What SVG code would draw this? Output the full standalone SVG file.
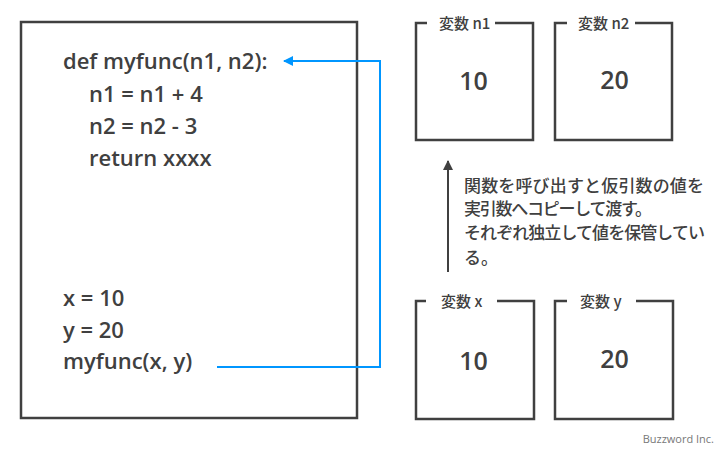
<svg xmlns="http://www.w3.org/2000/svg" width="728" height="450" viewBox="0 0 728 450">
<defs>
<style>
.box{fill:none;stroke:#404040;stroke-width:2.5}
.code{font-family:"Open Sans","Noto Sans",sans-serif;font-size:22px;font-weight:600;fill:#404040}
.lbl{font-family:"Noto Sans CJK JP","Noto Sans",sans-serif;font-size:15px;font-weight:500;fill:#404040}
.val{font-family:"Open Sans","Noto Sans",sans-serif;font-size:25px;font-weight:600;fill:#404040;text-anchor:middle}
.note{font-family:"Noto Sans CJK JP",sans-serif;font-size:17px;font-weight:500;fill:#404040}
.wm{font-family:"Open Sans","Noto Sans",sans-serif;font-size:11px;fill:#777}
</style>
<marker id="ab" viewBox="0 0 10 10" refX="9" refY="5" markerWidth="10" markerHeight="10" markerUnits="userSpaceOnUse" orient="auto"><path d="M0,0 L10,5 L0,10 z" fill="#0096ff"/></marker>
<marker id="ag" viewBox="0 0 10 10" refX="9" refY="5" markerWidth="10" markerHeight="10" markerUnits="userSpaceOnUse" orient="auto"><path d="M0,0 L10,5 L0,10 z" fill="#404040"/></marker>
</defs>
<rect width="728" height="450" fill="#fff"/>
<g id="code">
<rect class="box" x="21" y="22" width="336" height="396"/>
<text class="code" x="63" y="69">def myfunc(n1, n2):</text>
<text class="code" x="89" y="102">n1 = n1 + 4</text>
<text class="code" x="89" y="134">n2 = n2 - 3</text>
<text class="code" x="89" y="166">return xxxx</text>
<text class="code" x="63" y="306">x = 10</text>
<text class="code" x="63" y="338">y = 20</text>
<text class="code" x="63" y="369">myfunc(x, y)</text>
</g>
<g id="var-n1">
<path class="box" d="M427,23 H416 V140 H533 V23 H495"/>
<text class="lbl" x="439" y="29">変数 n1</text>
<text class="val" x="473.5" y="90">10</text>
</g>
<g id="var-n2">
<path class="box" d="M567,23 H555 V140 H672 V23 H635"/>
<text class="lbl" x="578" y="29">変数 n2</text>
<text class="val" x="614.5" y="89">20</text>
</g>
<g id="var-x">
<path class="box" d="M426,301 H416 V419 H534 V301 H497"/>
<text class="lbl" x="441" y="307">変数 x</text>
<text class="val" x="473.5" y="370">10</text>
</g>
<g id="var-y">
<path class="box" d="M567,301 H555 V419 H673 V301 H636"/>
<text class="lbl" x="580" y="307">変数 y</text>
<text class="val" x="614.5" y="368">20</text>
</g>
<g id="note">
<text class="note" x="464" y="192" textLength="240" lengthAdjust="spacing">関数を呼び出すと仮引数の値を</text>
<text class="note" x="464" y="215" textLength="188" lengthAdjust="spacing">実引数へコピーして渡す。</text>
<text class="note" x="464" y="239" textLength="241" lengthAdjust="spacing">それぞれ独立して値を保管してい</text>
<text class="note" x="464" y="264">る。</text>
</g>
<g id="connectors">
<path d="M217,367 H380 V61 H284" fill="none" stroke="#0096ff" stroke-width="2" marker-end="url(#ab)"/>
<path d="M448,272 V161" fill="none" stroke="#404040" stroke-width="2" marker-end="url(#ag)"/>
</g>
<text class="wm" x="714" y="443" text-anchor="end">Buzzword Inc.</text>
</svg>
